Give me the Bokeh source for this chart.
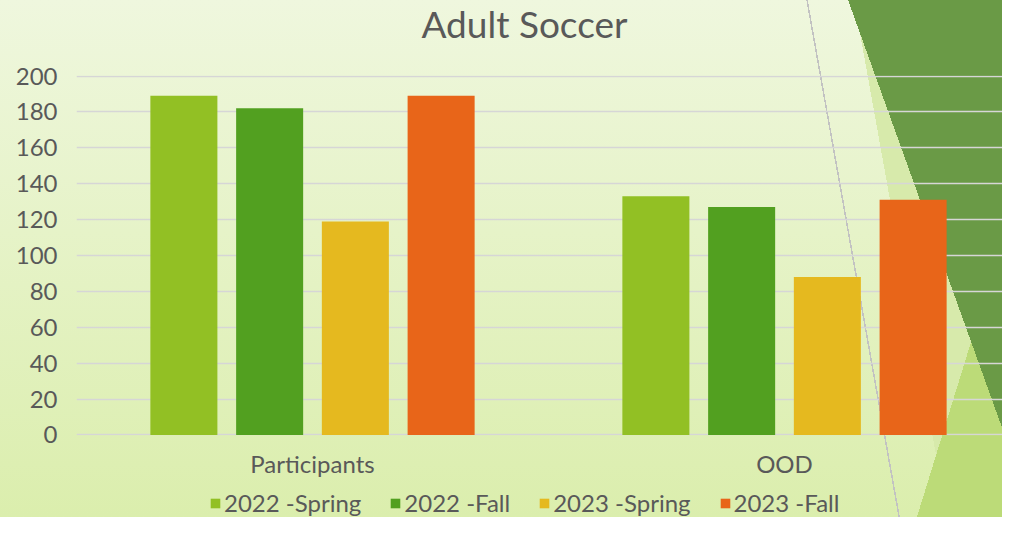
import math
from bokeh.plotting import figure
from bokeh.layouts import column
from bokeh.models import Range1d, FixedTicker, Legend, LegendItem, ColumnDataSource, Label
from bokeh.embed import file_html
from bokeh.resources import INLINE

# ---- data ----
categories = ["Participants", "OOD"]
series = ["2022 -Spring", "2022 -Fall", "2023 -Spring", "2023 -Fall"]
spring_2022 = [189, 133]
fall_2022 = [182, 127]
spring_2023 = [119, 88]
fall_2023 = [189, 131]
y_ticks = [0, 20, 40, 60, 80, 100, 120, 140, 160, 180, 200]
title_text = "Adult Soccer"

values = [spring_2022, fall_2022, spring_2023, fall_2023]
colors = ["#92c024", "#52a020", "#e5b91f", "#e86519"]
offsets = [-0.2725, -0.0908, 0.0908, 0.2725]
FONT = "Lato"
TXT = "#595959"

W, H = 1002, 517
H_TITLE = 58
TOP_GAP = 17            # chart frame top = H_TITLE + TOP_GAP = 75
H_LEG = 34
H_MAIN = H - H_LEG - H_TITLE
CAT_PX = 472
LEFT = 76


def bare(fig):
    fig.border_fill_alpha = 0
    fig.background_fill_alpha = 0
    fig.outline_line_color = None
    fig.grid.visible = False


# ---- title strip (x in page px, y in px from the top) ----
top = figure(width=W, height=H_TITLE, output_backend="svg", toolbar_location=None,
             x_range=Range1d(LEFT, W), y_range=Range1d(H_TITLE, 0),
             x_axis_type=None, y_axis_type=None, min_border=0)
bare(top)
top.add_layout(Label(x=524, y=23, text=title_text, text_align="center",
                     text_baseline="alphabetic", text_font=FONT, text_font_size="37px",
                     text_color=TXT))

# ---- chart ----
p = figure(width=W, height=H_MAIN, output_backend="svg", toolbar_location=None,
           x_range=Range1d(0, (W - LEFT) / CAT_PX), y_range=Range1d(-0.3, 200.3),
           min_border_left=LEFT, min_border_right=0, min_border_top=TOP_GAP,
           min_border_bottom=H_MAIN - TOP_GAP - 360)
p.border_fill_alpha = 0
p.background_fill_alpha = 0
p.outline_line_color = None

cat_x = [i + 0.5 for i in range(len(categories))]
for name, vals, col, off in zip(series, values, colors, offsets):
    src = ColumnDataSource(dict(x=[c + off for c in cat_x], top=vals, cat=categories))
    p.vbar(x="x", top="top", width=0.142, source=src, fill_color=col, line_color=None)

p.xaxis.ticker = FixedTicker(ticks=cat_x)
p.xaxis.major_label_overrides = {c: t for c, t in zip(cat_x, categories)}
p.yaxis.ticker = FixedTicker(ticks=y_ticks)
for ax in (p.xaxis[0], p.yaxis[0]):
    ax.axis_line_color = None
    ax.major_tick_line_color = None
    ax.minor_tick_line_color = None
    ax.major_tick_out = 0
    ax.major_tick_in = 0
    ax.major_label_text_font = FONT
    ax.major_label_text_font_size = "24px"
    ax.major_label_text_color = TXT
p.yaxis.major_label_standoff = 19
p.xaxis.major_label_standoff = 13
p.xgrid.grid_line_color = None
p.ygrid.ticker = FixedTicker(ticks=y_ticks)
p.ygrid.grid_line_color = "#d6d6d6"
p.ygrid.grid_line_width = 1.5

# ---- legend strip ----
leg = figure(width=W, height=H_LEG, output_backend="svg", toolbar_location=None,
             x_range=Range1d(0, 1), y_range=Range1d(0, 1), x_axis_type=None, y_axis_type=None,
             min_border=0)
bare(leg)
items = []
for name, col in zip(series, colors):
    # proxy renderer outside the visible range: only its legend swatch shows
    r = leg.vbar(x=[5], top=[5], bottom=[4], width=0.1, fill_color=col, line_color=None)
    items.append(LegendItem(label=name, renderers=[r]))
legend = Legend(items=items, orientation="horizontal", location=(209 - LEFT, 0),
                glyph_width=12, glyph_height=12, label_standoff=3, spacing=28,
                label_text_font=FONT, label_text_font_size="24px", label_text_color=TXT,
                background_fill_alpha=0, border_line_alpha=0, padding=0, margin=0)
leg.add_layout(legend, "center")


# ---- decorative slide background (CSS layers on the whole page block) ----
def halfplane(a, b, color, line=None):
    dx, dy = b[0] - a[0], b[1] - a[1]
    nx, ny = dy, -dx
    if nx < 0:
        nx, ny = -nx, -ny
    n = math.hypot(nx, ny)
    nx, ny = nx / n, ny / n
    th = math.degrees(math.atan2(nx, -ny))
    L = W * abs(math.sin(math.radians(th))) + H * abs(math.cos(math.radians(th)))
    sx, sy = W / 2 - L / 2 * nx, H / 2 - L / 2 * ny
    t = (a[0] - sx) * nx + (a[1] - sy) * ny
    if line:
        return (f"linear-gradient({th:.3f}deg, rgba(0,0,0,0) {t - line / 2:.2f}px, {color} {t - line / 2:.2f}px, "
                f"{color} {t + line / 2:.2f}px, rgba(0,0,0,0) {t + line / 2:.2f}px)")
    return f"linear-gradient({th:.3f}deg, rgba(0,0,0,0) {t:.2f}px, {color} {t:.2f}px)"


layers = [
    halfplane((848, 0), (1018, 472), "#6a9a46"),
    halfplane((912, 533), (1018, 190), "#bcdb78"),
    halfplane((854, 0), (950, 533), "#d7eaab"),
    halfplane((807, 0), (902, 533), "#c2c2c2", line=1.5),
    "linear-gradient(to bottom, #eff7de, #dbeead)",
]
page = column(top, p, leg, spacing=0)
page.styles = {"background-image": ", ".join(layers), "width": f"{W}px", "height": f"{H}px"}

open("out.html", "w").write(file_html(page, INLINE))
